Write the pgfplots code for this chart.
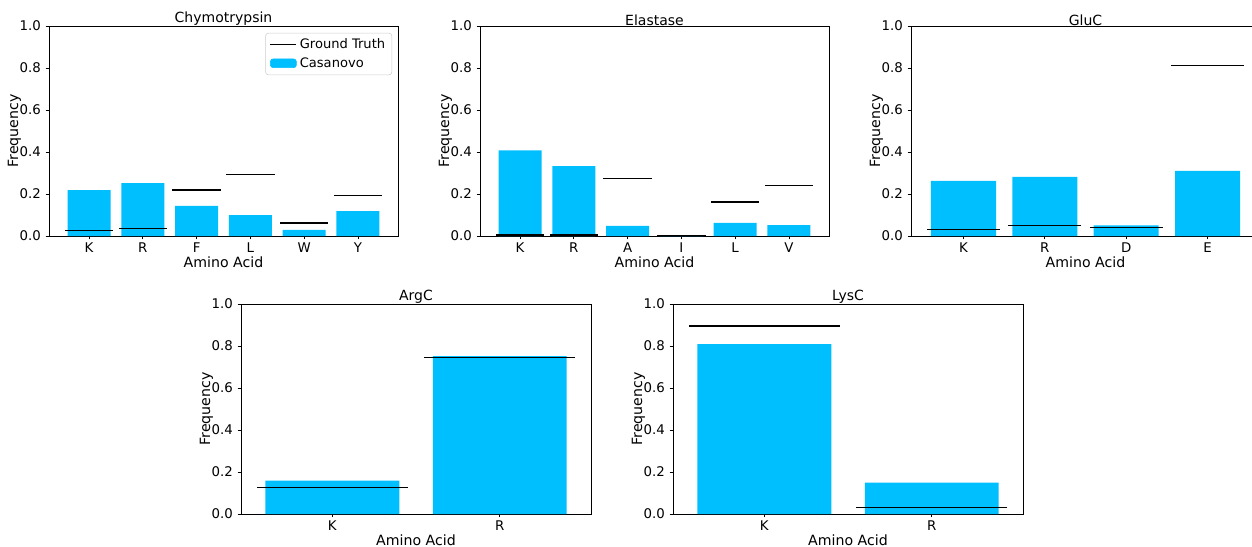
\documentclass[border=0pt]{standalone}
\usepackage{pgfplots}
\pgfplotsset{compat=1.18}
\usepackage{fontspec}
\setmainfont{DejaVu Sans}
\definecolor{casblue}{HTML}{00BFFF}

\pgfplotsset{
  freqax/.style={
    scale only axis, width=261.75pt, height=157.5pt,
    ymin=0, ymax=1, ytick={0,0.2,0.4,0.6,0.8,1},
    yticklabel style={/pgf/number format/.cd, fixed, fixed zerofill, precision=1},
    /pgf/number format/assume math mode=true,
    tick align=outside, xtick pos=bottom, ytick pos=left,
    major tick length=2.6pt,
    tick style={black, line width=0.6pt},
    axis line style={line width=0.6pt},
    ticklabel style={font=\fontsize{10}{12}\selectfont},
    xticklabel style={yshift=1pt},
    label style={font=\fontsize{10.6}{12}\selectfont},
    xlabel shift=-4pt, ylabel shift=-8pt,
    title style={font=\fontsize{10.5}{12}\selectfont, yshift=-9pt},
    xlabel={Amino Acid}, ylabel={Frequency},
  },
  cas/.style={ybar, bar width=0.8, fill=casblue, draw=none, forget plot},
  gt/.style={draw=none, mark=none, forget plot,
    error bars/.cd, x dir=both, x fixed=0.45, error mark=none,
    error bar style={draw=black, line width=1.1pt}},
}

\begin{document}
\begin{tikzpicture}
% Chymotrypsin
\begin{axis}[freqax, at={(36.75pt,-19.5pt)}, anchor=north west,
  title={Chymotrypsin},
  xmin=-0.745, xmax=5.745, xtick={0,1,2,3,4,5}, xticklabels={K,R,F,L,W,Y},
  legend style={at={(rel axis cs:0.983,0.967)}, anchor=north east,
    draw=black!20, rounded corners=2pt, font=\fontsize{9.8}{11}\selectfont,
    row sep=1.5pt},
  legend cell align=left]
\addlegendimage{legend image code/.code={\draw[black, line width=1.1pt] (0pt,0pt) -- (19.5pt,0pt);}}
\addlegendentry{Ground Truth}
\addlegendimage{legend image code/.code={\fill[casblue] (0pt,-3pt) rectangle (19.5pt,3.5pt);}}
\addlegendentry{Casanovo}
\addplot[cas] coordinates {(0,0.219) (1,0.252) (2,0.143) (3,0.100) (4,0.029) (5,0.119)};
\addplot[gt] coordinates {(0,0.025) (1,0.037) (2,0.219) (3,0.292) (4,0.062) (5,0.192)};
\end{axis}
% Elastase
\begin{axis}[freqax, at={(360pt,-19.5pt)}, anchor=north west,
  title={Elastase},
  xmin=-0.745, xmax=5.745, xtick={0,1,2,3,4,5}, xticklabels={K,R,A,I,L,V}]
\addplot[cas] coordinates {(0,0.408) (1,0.333) (2,0.048) (3,0.0) (4,0.062) (5,0.052)};
\addplot[gt] coordinates {(0,0.005) (1,0.005) (2,0.273) (3,0.002) (4,0.163) (5,0.240)};
\end{axis}
% GluC
\begin{axis}[freqax, at={(683.25pt,-19.5pt)}, anchor=north west,
  title={GluC},
  xmin=-0.645, xmax=3.645, xtick={0,1,2,3}, xticklabels={K,R,D,E}]
\addplot[cas] coordinates {(0,0.262) (1,0.281) (2,0.051) (3,0.310)};
\addplot[gt] coordinates {(0,0.032) (1,0.049) (2,0.040) (3,0.811)};
\end{axis}
% ArgC
\begin{axis}[freqax, width=262.5pt, at={(180.75pt,-228pt)}, anchor=north west,
  title={ArgC},
  xmin=-0.545, xmax=1.545, xtick={0,1}, xticklabels={K,R}]
\addplot[cas] coordinates {(0,0.159) (1,0.752)};
\addplot[gt] coordinates {(0,0.127) (1,0.744)};
\end{axis}
% LysC
\begin{axis}[freqax, width=262.5pt, at={(504.75pt,-228pt)}, anchor=north west,
  title={LysC},
  xmin=-0.545, xmax=1.545, xtick={0,1}, xticklabels={K,R}]
\addplot[cas] coordinates {(0,0.809) (1,0.150)};
\addplot[gt] coordinates {(0,0.896) (1,0.030)};
\end{axis}
\pgfresetboundingbox
\useasboundingbox (0pt,0pt) rectangle (939pt,-409.5pt);
\end{tikzpicture}
\end{document}
